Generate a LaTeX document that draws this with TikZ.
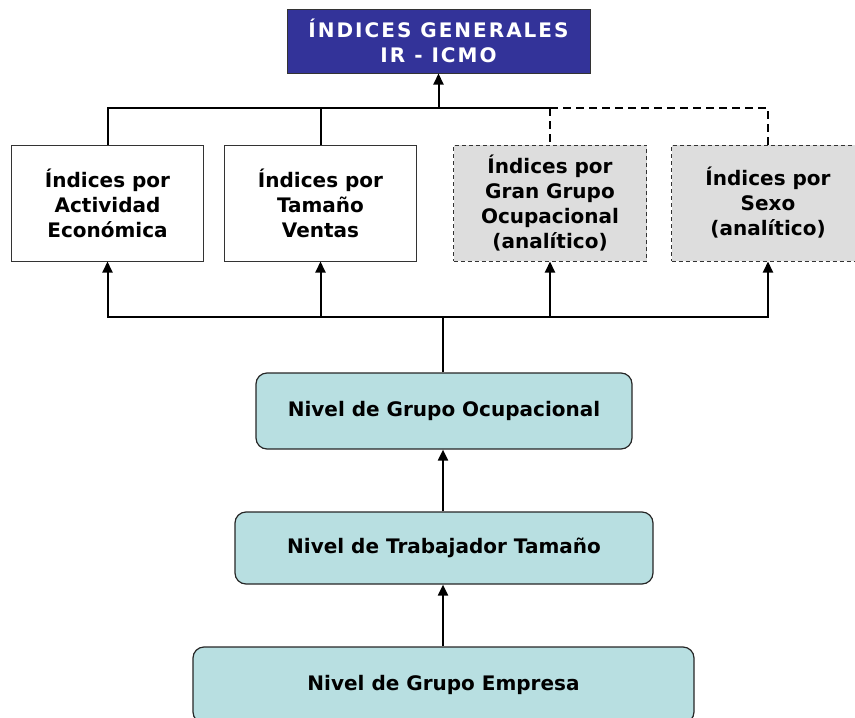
\documentclass[tikz,border=0pt]{standalone}
\usepackage{fontspec}
\setmainfont{DejaVu Sans}
\newfontfamily\topfont{DejaVu Sans}[LetterSpace=10]
\usetikzlibrary{arrows.meta}
\definecolor{navy}{HTML}{333399}
\definecolor{lblue}{HTML}{B8DFE1}
\definecolor{lgray}{HTML}{DDDDDD}
\begin{document}
\begin{tikzpicture}[x=1pt,y=-1pt,
  txt/.style={font=\fontsize{20}{25}\selectfont\bfseries, align=center, inner sep=0pt},
  topbox/.style={txt, draw=black!80, line width=1pt, fill=navy, text=white, minimum width=303pt, minimum height=64pt},
  whitebox/.style={txt, draw=black!80, line width=1pt, fill=white, minimum width=192pt, minimum height=116pt},
  graybox/.style={txt, draw=black!80, line width=1pt, dash pattern=on 4pt off 3pt, fill=lgray, minimum width=193pt, minimum height=116pt},
  levelbox/.style={txt, draw=black!85, line width=1.2pt, fill=lblue, rounded corners=11pt, minimum height=75pt},
  conn/.style={line width=2pt, draw=black},
  dconn/.style={line width=2pt, draw=black, dash pattern=on 8pt off 5pt},
  arr/.style={conn, -{Triangle[length=11pt,width=10pt]}}
]
\useasboundingbox (0,0) rectangle (855,718);
\node[topbox] (top) at (438.5,41) {{\topfont\bfseries ÍNDICES GENERALES}\\{\topfont\bfseries IR - ICMO}};
\node[whitebox] (b1) at (107.5,203) {Índices por\\Actividad\\Económica};
\node[whitebox] (b2) at (320.5,203) {Índices por\\Tamaño\\Ventas};
\node[graybox] (b3) at (550,203) {Índices por\\Gran Grupo\\Ocupacional\\(analítico)};
\node[graybox] (b4) at (768,203) {Índices por\\Sexo\\(analítico)};
\node[levelbox, minimum width=376pt, minimum height=76pt] (ngo) at (444,411) {Nivel de Grupo Ocupacional};
\node[levelbox, minimum width=418pt, minimum height=72pt] (ntt) at (444,548) {Nivel de Trabajador Tamaño};
\node[levelbox, minimum width=501pt, minimum height=76pt] (nge) at (443.5,685) {Nivel de Grupo Empresa};
\coordinate (tj) at (438.5,108);
\coordinate (dj3) at (550,108);
\coordinate (dj4) at (768,108);
\coordinate (bj) at (443,317);
\draw[conn] (b1.north) |- (dj3);
\draw[conn] (b2.north) -- (b2.north |- tj);
\draw[dconn] (dj3) -- (b3.north);
\draw[dconn] (dj3) -- (dj4) -- (b4.north);
\draw[arr] (tj) -- (top.south);
\draw[conn] (ngo.north -| bj) -- (bj);
\draw[arr] (bj) -| (b1.south);
\draw[arr] (bj) -| (b2.south);
\draw[arr] (bj) -| (b3.south);
\draw[arr] (bj) -| (b4.south);
\draw[arr] (ntt.north -| bj) -- (ngo.south -| bj);
\draw[arr] (nge.north -| bj) -- (ntt.south -| bj);
\end{tikzpicture}
\end{document}
